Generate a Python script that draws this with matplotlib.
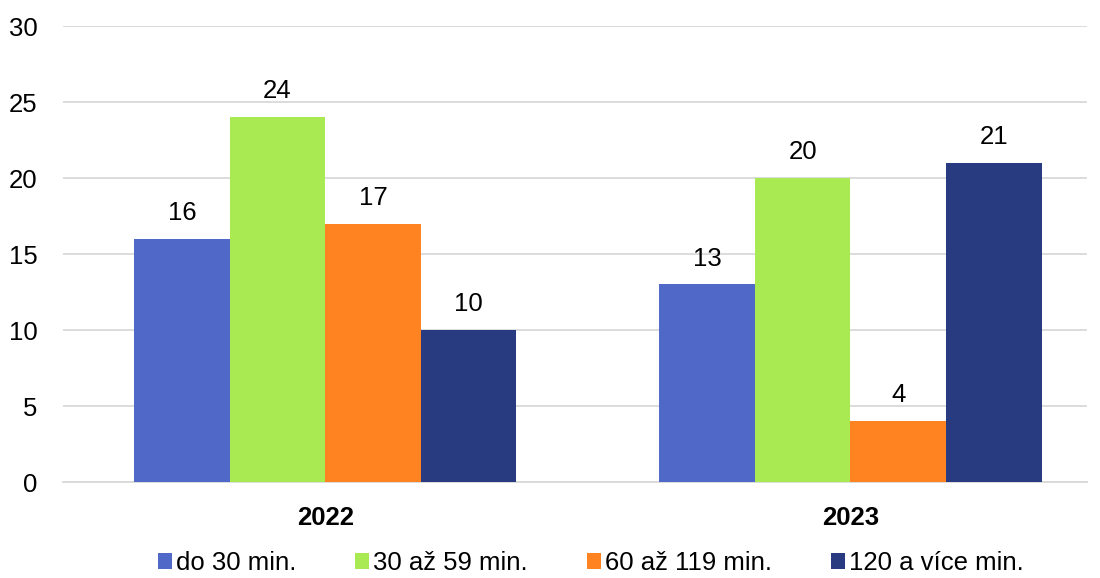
import matplotlib
matplotlib.use("Agg")
import matplotlib.pyplot as plt
import numpy as np

plt.rcParams["font.family"] = ["Liberation Sans", "DejaVu Sans"]

years = ["2022", "2023"]
series_names = ["do 30 min.", "30 až 59 min.", "60 až 119 min.", "120 a více min."]
values = [
    [16, 13],
    [24, 20],
    [17, 4],
    [10, 21],
]
colors = ["#5068C8", "#A9EA52", "#FF8321", "#283A80"]

fig = plt.figure(figsize=(11, 5.78), dpi=100)
ax = fig.add_axes([0.057, 0.166, 0.931, 0.789])

x = np.arange(len(years))
width = 0.182
for i, (name, vals, col) in enumerate(zip(series_names, values, colors)):
    offs = (i - 1.5) * width
    bars = ax.bar(x + offs, vals, width, color=col, label=name, zorder=3)
    for b, v in zip(bars, vals):
        ax.annotate(str(v), xy=(b.get_x() + b.get_width() / 2, v),
                    xytext=(0, 10), textcoords="offset points",
                    ha="center", va="bottom", fontsize=18.5, color="#000000")

ax.set_ylim(0, 30)
ax.set_xlim(-0.5, 1.45)
ax.set_yticks(range(0, 31, 5))
ax.set_xticks(x)
ax.set_xticklabels(years, fontsize=18.5, fontweight="bold")
ax.tick_params(axis="y", length=0, labelsize=18.5, pad=18)
ax.tick_params(axis="x", length=0, pad=17)
ax.grid(axis="y", color="#D9D9D9", linewidth=1.3, zorder=0)
for s in ["top", "right", "left"]:
    ax.spines[s].set_visible(False)
ax.spines["bottom"].set_color("#D9D9D9")
ax.spines["bottom"].set_linewidth(1.3)

fig.legend(loc="lower center", bbox_to_anchor=(0.537, -0.035), ncol=4,
           frameon=False, fontsize=18.5, handlelength=0.55, handleheight=0.55,
           handletextpad=0.15, columnspacing=2.3)

fig.savefig("out.png", dpi=100)
